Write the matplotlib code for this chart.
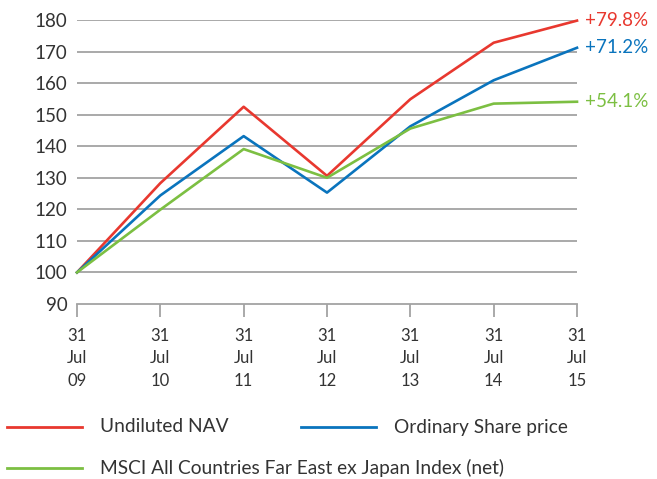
import matplotlib
matplotlib.use('Agg')
import matplotlib.pyplot as plt
from matplotlib.lines import Line2D

# performance rebased to 100 at 31 Jul 09
years = ['09', '10', '11', '12', '13', '14', '15']
nav = [100, 128.3, 152.5, 130.6, 154.9, 172.8, 179.8]
share_price = [100, 124.4, 143.2, 125.3, 146.3, 160.9, 171.2]
msci = [100, 119.9, 139.1, 130.0, 145.6, 153.5, 154.1]
end_labels = ['+79.8%', '+71.2%', '+54.1%']
series_names = ['Undiluted NAV', 'Ordinary Share price',
                'MSCI All Countries Far East ex Japan Index (net)']

RED = '#e8382f'
BLUE = '#0a74bd'
GREEN = '#7cbf42'
GREY = '#a3a3a3'
TXT = '#333333'

plt.rcParams['font.family'] = ['Lato', 'DejaVu Sans']

W, H = 657, 479
fig = plt.figure(figsize=(W / 100, H / 100), dpi=100)
ax = fig.add_axes([77 / W, (H - 304) / H, 500 / W, 284 / H])

x = list(range(len(years)))
ax.set_xlim(0, len(years) - 1)
ax.set_ylim(90, 180)

for yv in range(100, 181, 10):
    ax.axhline(yv, color=GREY, lw=1.3, zorder=1)

colors = [RED, BLUE, GREEN]
for vals, c, lab in zip([nav, share_price, msci], colors, end_labels):
    ax.plot(x, vals, color=c, lw=1.9, zorder=3, clip_on=False)
    ax.annotate(lab, xy=(x[-1], vals[-1]), xytext=(6, 0),
                textcoords='offset points', va='center', ha='left',
                color=c, fontsize=13.5)

for s in ['top', 'right', 'left']:
    ax.spines[s].set_visible(False)
ax.spines['bottom'].set_color(GREY)
ax.spines['bottom'].set_linewidth(1.3)

ax.set_yticks(range(90, 181, 10))
ax.tick_params(axis='y', length=0, pad=7, labelsize=13.5, labelcolor=TXT)
ax.set_xticks(x)
ax.set_xticklabels(['31\nJul\n' + y for y in years], linespacing=1.5)
ax.tick_params(axis='x', length=9, width=1.3, color=GREY, pad=8,
               labelsize=12, labelcolor=TXT)

# legend drawn by hand to match the layout
legend_items = [(7, 82, 100, 427, RED, series_names[0]),
                (301, 376, 394, 427, BLUE, series_names[1]),
                (7, 82, 100, 468, GREEN, series_names[2])]
for x0, x1, tx, yy, c, name in legend_items:
    fig.add_artist(Line2D([x0 / W, x1 / W], [1 - yy / H, 1 - yy / H],
                          color=c, lw=2, transform=fig.transFigure))
    fig.text(tx / W, 1 - yy / H, name, va='center', ha='left',
             fontsize=13.8, color=TXT)

fig.savefig('out.png', dpi=100)
